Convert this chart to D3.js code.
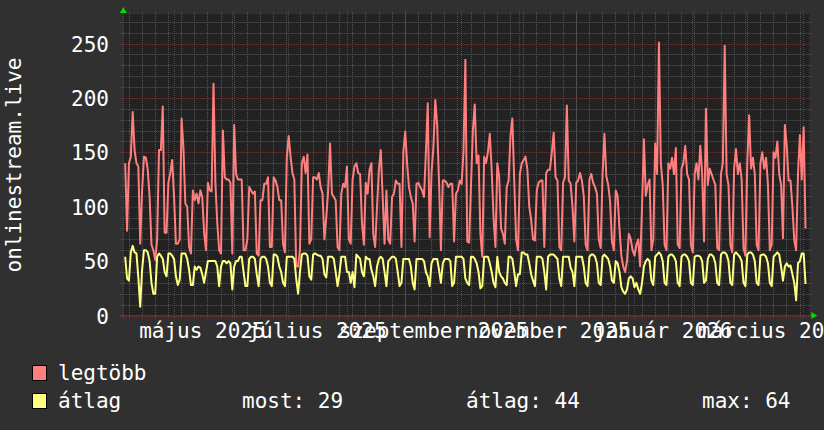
<!DOCTYPE html>
<html><head><meta charset="utf-8">
<script src="https://cdn.jsdelivr.net/npm/d3@7"></script>
<style>html,body{margin:0;padding:0;background:#303030;}svg{display:block}</style>
</head><body>
<svg id="c" width="824" height="430"></svg>
<script>
// ---- data ----
const domainStart = "2025-04-04T04:48:00Z";
const domainEnd = "2026-04-04T04:48:00Z";
const firstSample = "2025-04-05T04:48:00Z";
const seriesNames = ["legtöbb", "átlag"];
const maxValues = [
140,78,140,146,187,152,140,137,66,115,
146,145,134,109,65,60,51,70,152,152,
192,76,76,122,131,143,109,66,66,70,
181,154,103,100,63,57,115,106,112,103,
115,109,76,60,122,115,114,213,122,85,
60,57,170,127,125,125,122,57,175,130,
125,125,125,60,60,70,118,115,112,114,
57,55,106,106,121,121,127,63,63,127,
124,118,106,106,66,58,146,165,146,131,
125,45,45,60,140,146,131,148,66,70,
127,127,125,131,118,112,70,90,115,158,
112,109,106,63,60,112,121,118,137,70,
66,125,137,140,131,130,85,65,122,112,
134,140,75,63,100,134,152,109,66,115,
70,66,109,112,124,121,121,63,150,169,
140,118,109,103,68,121,122,118,115,109,
150,195,72,131,155,198,175,122,60,124,
124,122,118,121,121,68,112,115,124,121,
150,235,68,67,120,170,194,140,147,75,
54,146,140,150,167,134,90,63,140,127,
80,75,66,118,124,165,181,124,70,60,
130,140,143,146,134,100,88,70,69,115,
122,124,124,63,131,134,134,150,168,127,
124,63,60,122,127,193,124,121,100,68,
122,124,131,124,110,65,60,125,130,122,
118,112,70,62,130,167,128,120,105,68,
60,115,110,80,55,45,40,50,75,70,
60,55,65,70,45,100,162,110,120,125,
60,70,158,130,251,140,120,65,60,140,
135,145,130,154,65,62,135,140,156,130,
125,65,58,130,140,125,156,130,68,190,
120,135,130,125,120,62,60,130,140,248,
130,120,65,58,135,153,130,140,125,62,
55,140,184,135,145,130,65,60,140,150,
135,145,120,60,65,150,145,160,130,120,
71,175,156,124,124,100,69,60,131,166,
125,173,80];
const avgValues = [
54,34,32,58,64,58,57,35,8,42,
60,60,58,50,30,20,20,54,57,55,
52,40,36,57,57,55,52,36,28,33,
57,57,57,52,42,28,28,45,42,45,
44,38,30,40,50,50,50,50,50,45,
27,45,50,50,48,50,48,24,45,50,
50,54,54,40,27,27,52,54,54,52,
38,27,52,54,54,52,45,30,27,56,
56,54,45,40,30,27,54,54,54,54,
52,34,20,40,56,57,57,55,36,33,
56,57,56,55,55,52,38,35,54,54,
54,52,40,27,38,54,54,54,40,40,
30,40,26,56,54,52,40,36,54,52,
52,42,36,27,45,52,54,52,40,27,
50,52,54,54,52,40,27,30,52,52,
52,52,45,30,24,52,52,52,52,50,
40,36,27,48,52,52,52,42,30,48,
52,52,52,50,27,30,54,54,54,54,
52,34,30,28,54,54,52,48,40,25,
27,54,54,54,48,40,30,26,54,40,
36,34,30,28,54,54,52,40,27,38,
38,58,58,56,56,48,38,32,27,54,
54,54,52,40,24,54,56,56,56,54,
52,34,27,54,54,54,54,44,40,27,
54,54,54,54,45,30,27,54,56,56,
54,48,30,28,54,56,54,52,45,32,
30,50,48,40,26,22,20,24,34,36,
34,26,30,24,20,30,45,50,52,50,
32,28,54,56,58,56,50,30,28,54,
56,56,54,50,30,27,54,56,56,54,
50,30,28,54,55,55,54,50,30,32,
52,56,56,54,48,30,28,56,58,58,
56,50,30,28,56,58,56,54,50,30,
27,56,58,58,56,50,30,28,55,56,
56,54,48,30,27,54,56,58,56,45,
32,45,48,45,46,38,30,14,48,50,
57,57,29];
const xLabelNames = ["május 2025","július 2025","szeptember 2025","november 2025","január 2026","március 2026"];
const xLabelDates = ["2025-05-16T00:00:00Z","2025-07-16T00:00:00Z","2025-09-16T00:00:00Z","2025-11-16T00:00:00Z","2026-01-16T00:00:00Z","2026-03-16T00:00:00Z"];
const yTickValues = [0,50,100,150,200,250];
const yTitle = "onlinestream.live";
const legendStats = ["most: 29","átlag: 44","max: 64"];

// ---- layout ----
const W = 824, H = 430;
const L = 123.3, R = 809.3, T = 14, B = 315.5;
const FONT = "'DejaVu Sans Mono', monospace";
const FS = 21;
const colMax = "#ff7f7f", colAvg = "#ffff80";

const svg = d3.select("#c");
svg.append("rect").attr("width", W).attr("height", H).attr("fill", "#303030");

const x = d3.scaleUtc().domain([new Date(domainStart), new Date(domainEnd)]).range([L, R]);
const y = d3.scaleLinear().domain([0, 250]).range([B, 43.5]);
const yTop = y.invert(T);

svg.append("rect").attr("x", L).attr("y", T).attr("width", R - L).attr("height", B - T).attr("fill", "#222222");

const g = svg.append("g");
const minorY = d3.range(0, yTop, 10).filter(v => v % 50 !== 0);
g.selectAll(".hm").data(minorY).join("line")
  .attr("x1", L - 3).attr("x2", R + 3)
  .attr("y1", d => Math.round(y(d)) + 0.5).attr("y2", d => Math.round(y(d)) + 0.5)
  .attr("stroke", "#555").attr("stroke-dasharray", "1,1");
const weeks = d3.utcMonday.range(x.domain()[0], x.domain()[1]);
g.selectAll(".vm").data(weeks).join("line")
  .attr("x1", d => Math.round(x(d)) + 0.5).attr("x2", d => Math.round(x(d)) + 0.5)
  .attr("y1", T - 2).attr("y2", B + 3)
  .attr("stroke", "#555").attr("stroke-dasharray", "1,1");
g.selectAll(".hM").data(yTickValues.concat(d3.range(300, yTop, 50))).join("line")
  .attr("x1", L - 3).attr("x2", R + 3)
  .attr("y1", d => Math.round(y(d)) + 0.5).attr("y2", d => Math.round(y(d)) + 0.5)
  .attr("stroke", "#7a3434").attr("stroke-dasharray", "1,1");
const months = d3.utcMonth.range(x.domain()[0], x.domain()[1]);
g.selectAll(".vM").data(months).join("line")
  .attr("x1", d => Math.round(x(d)) + 0.5).attr("x2", d => Math.round(x(d)) + 0.5)
  .attr("y1", T - 3).attr("y2", B + 3)
  .attr("stroke", "#7a3434").attr("stroke-dasharray", "1,1");
g.append("line").attr("x1", L).attr("x2", L).attr("y1", T).attr("y2", B + 3).attr("stroke", "#555").attr("stroke-dasharray", "1,1");
g.append("line").attr("x1", L - 3).attr("x2", R + 3).attr("y1", B).attr("y2", B).attr("stroke", "#555").attr("stroke-dasharray", "1,1");

// series
const t0 = new Date(firstSample);
const dates = maxValues.map((_, i) => d3.utcDay.offset(t0, i));
const line = d3.line().x((d, i) => x(dates[i])).y(d => y(d)).curve(d3.curveLinear);
svg.append("path").datum(maxValues).attr("d", line)
  .attr("fill", "none").attr("stroke", colMax).attr("stroke-width", 2).attr("stroke-linejoin", "round");
svg.append("path").datum(avgValues).attr("d", line)
  .attr("fill", "none").attr("stroke", colAvg).attr("stroke-width", 2).attr("stroke-linejoin", "round");

// arrows
svg.append("path").attr("d", `M${L-3.5},${T-1}L${L+3.5},${T-1}L${L},${T-7}Z`).attr("fill", "#00dd00");
svg.append("path").attr("d", `M${R+2},${B-3.5}L${R+2},${B+3.5}L${R+8},${B}Z`).attr("fill", "#00dd00");

// y axis labels
const yAxis = d3.axisLeft(y).tickValues(yTickValues).tickSize(0).tickPadding(0).tickFormat(d3.format("d"));
const ya = svg.append("g").attr("transform", `translate(109,0)`).call(yAxis);
ya.select(".domain").remove();
ya.selectAll("text").attr("fill", "#fff").attr("font-family", FONT).attr("font-size", FS).attr("dy", "0.36em").attr("x", 0);

// x axis labels
const xa = svg.append("g").attr("transform", `translate(0,${B})`)
  .call(d3.axisBottom(x).tickValues(xLabelDates.map(d => new Date(d))).tickSize(0).tickPadding(0)
    .tickFormat((d, i) => xLabelNames[i]));
xa.select(".domain").remove();
xa.selectAll("text").attr("fill", "#fff").attr("font-family", FONT).attr("font-size", FS).attr("dy", 0).attr("y", 22);

// y title
svg.append("text").attr("transform", "translate(21,165) rotate(-90)")
  .attr("text-anchor", "middle").attr("fill", "#fff").attr("font-family", FONT).attr("font-size", FS)
  .text(yTitle);

// legend
const legCols = [colMax, colAvg];
const legY = [380, 408];
seriesNames.forEach((n, i) => {
  svg.append("rect").attr("x", 32.5).attr("y", legY[i] - 14.5).attr("width", 14).attr("height", 15)
    .attr("fill", legCols[i]).attr("stroke", "#000").attr("stroke-width", 1);
  svg.append("text").attr("x", 58).attr("y", legY[i]).attr("fill", "#fff")
    .attr("font-family", FONT).attr("font-size", FS).text(n);
});
const statX = [242, 466, 702];
legendStats.forEach((s, i) => {
  svg.append("text").attr("x", statX[i]).attr("y", legY[1]).attr("fill", "#fff")
    .attr("font-family", FONT).attr("font-size", FS).text(s);
});
</script>
</body></html>
